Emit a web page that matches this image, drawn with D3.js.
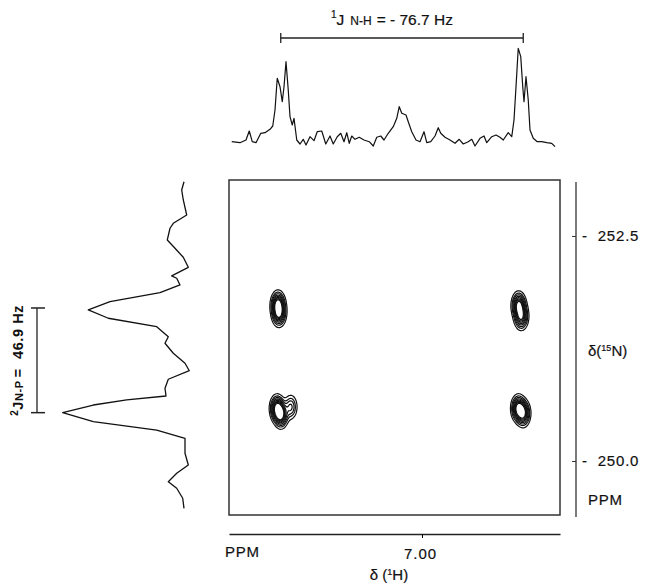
<!DOCTYPE html>
<html>
<head>
<meta charset="utf-8">
<script src="https://cdn.jsdelivr.net/npm/d3@7"></script>
<style>
  body { margin: 0; background: #fff; }
  text { font-family: "Liberation Sans", Arial, sans-serif; fill: #111; stroke: #111; stroke-width: 0.2px; }
</style>
</head>
<body>
<div id="chart-area"></div>
<script>
// 1H projection (top): chemical shift in ppm, intensity (arb. units)
const topShift = [7.1522, 7.1456, 7.1408, 7.1382, 7.1358, 7.1328, 7.1290, 7.1256, 7.1216, 7.1194,
  7.1176, 7.1158, 7.1136, 7.1118, 7.1104, 7.1088, 7.1070, 7.1056, 7.1038, 7.1024,
  7.1002, 7.0976, 7.0950, 7.0928, 7.0896, 7.0864, 7.0838, 7.0802, 7.0770, 7.0736,
  7.0710, 7.0678, 7.0650, 7.0624, 7.0602, 7.0582, 7.0562, 7.0536, 7.0502, 7.0464,
  7.0422, 7.0390, 7.0362, 7.0330, 7.0304, 7.0270, 7.0230, 7.0202, 7.0182, 7.0162,
  7.0128, 7.0110, 7.0082, 7.0048, 7.0016, 6.9984, 6.9962, 6.9930, 6.9896, 6.9870,
  6.9850, 6.9816, 6.9776, 6.9736, 6.9702, 6.9670, 6.9630, 6.9602, 6.9576, 6.9536,
  6.9504, 6.9482, 6.9442, 6.9408, 6.9376, 6.9350, 6.9310, 6.9282, 6.9264, 6.9248,
  6.9230, 6.9210, 6.9194, 6.9184, 6.9168, 6.9150, 6.9136, 6.9110, 6.9078, 6.9042,
  6.9002, 6.8962, 6.8936];
const topIntensity = [0.3, -0.7, 2, 11, 0.3, -0.7, 8.7, 9.3, 12.7, 16,
  32, 63.7, 55.3, 40.3, 55.3, 80.3, 52, 25.3, 17, 23.7,
  2, -2, 2.7, -3, 5.3, 1.3, 10.3, 11, -2, 6,
  -2, 5.3, 8.7, 0.3, 9.3, -1.3, 6, 2.7, 4.7, 2,
  0.3, -4, 4.7, 6, 2, 8.7, 15.3, 23.7, 35.3, 28.7,
  27, 20.3, 10.3, 2, 0.3, 10.3, -0.7, 0.3, 6, 14.3,
  8.7, 4.7, 2, -1.3, 2.7, -2, 0.3, 2.7, -4, 3.7,
  6, -0.7, 5.3, 7, 4.7, 2, 9.3, 5.3, 22, 55.3,
  93.7, 85.3, 55.3, 40.3, 65.3, 42, 12, 3.7, 0.3, 0.3,
  -0.7, -1.3, -4.7];

// 15N projection (left): chemical shift in ppm, intensity (arb. units)
const leftShift = [253.103, 253.011, 252.900, 252.733, 252.641, 252.586, 252.456, 252.363, 252.263, 252.152,
  252.056, 252.030, 251.956, 251.870, 251.770, 251.678, 251.586, 251.492, 251.381, 251.308,
  251.197, 251.086, 251.003, 250.908, 250.808, 250.722, 250.678, 250.622, 250.537, 250.437,
  250.344, 250.252, 250.086, 249.956, 249.863, 249.770, 249.697, 249.586, 249.474];
const leftIntensity = [0, 2.3, 0.7, -2.7, 10.7, 14, 16.7, 9, 0.7, -4.3,
  12.3, 7.3, 4, 24, 74, 95.7, 75.7, 27.3, 15.7, 19,
  10.7, -1, -5.3, 15.7, 19, 18, 57.3, 90.7, 121.3, 90.7,
  27.3, -1, -1, -4.3, 7.3, 15.7, 7.3, 1.3, 0];

// cross peak components: 1H ppm, 15N ppm, relative height
const peakH = [7.1152, 7.1144, 7.1160, 7.1128, 7.1050, 6.9226, 6.9206, 6.9230, 6.9190];
const peakN = [251.740, 251.640, 250.585, 250.515, 250.600, 251.730, 251.605, 250.585, 250.530];
const peakHeight = [1, 0.9, 1, 1, 0.45, 1, 0.9, 1, 0.95];
const peakWidthH = 0.0029, peakWidthN = 0.075;
const contourLevels = [0.1, 0.2, 0.3, 0.42, 0.54, 0.66, 0.78, 0.9];

// couplings (marker ends) and ticks
const jNH = [7.1130, 6.9190];
const jNP = [251.700, 250.537];
const hTicks = [7.00];
const nTicks = [252.5, 250.0];

const W = 645, H = 587;
const svg = d3.select("#chart-area").append("svg")
  .attr("width", W).attr("height", H);

const x = d3.scaleLinear().domain([7.1544, 6.8896]).range([229, 560]);
const y = d3.scaleLinear().domain([253.122, 249.4]).range([180, 515]);
const topY = d3.scaleLinear().domain([0, 100]).range([142, 42]);
const leftX = d3.scaleLinear().domain([0, 100]).range([184, 84]);

// top 1H trace
svg.append("path")
  .datum(d3.zip(topShift, topIntensity))
  .attr("d", d3.line().x(d => x(d[0])).y(d => topY(d[1])))
  .attr("fill", "none").attr("stroke", "#111").attr("stroke-width", 1.2)
  .attr("stroke-linejoin", "round");

// left 15N trace
svg.append("path")
  .datum(d3.zip(leftShift, leftIntensity))
  .attr("d", d3.line().x(d => leftX(d[1])).y(d => y(d[0])))
  .attr("fill", "none").attr("stroke", "#111").attr("stroke-width", 1.3)
  .attr("stroke-linejoin", "round");

// 2D frame
svg.append("rect")
  .attr("x", x.range()[0]).attr("y", y.range()[0])
  .attr("width", x.range()[1] - x.range()[0]).attr("height", y.range()[1] - y.range()[0])
  .attr("fill", "none").attr("stroke", "#333").attr("stroke-width", 1.5);

// contour map
const nx = Math.round(x.range()[1] - x.range()[0]);
const ny = Math.round(y.range()[1] - y.range()[0]);
const grid = new Float64Array(nx * ny);
for (let j = 0; j < ny; j++) {
  const N = y.invert(y.range()[0] + j + 0.5);
  for (let i = 0; i < nx; i++) {
    const Hs = x.invert(x.range()[0] + i + 0.5);
    let v = 0;
    for (let k = 0; k < peakH.length; k++) {
      const dh = (Hs - peakH[k]) / peakWidthH, dn = (N - peakN[k]) / peakWidthN;
      v += peakHeight[k] * Math.exp(-0.5 * (dh * dh + dn * dn));
    }
    grid[j * nx + i] = v;
  }
}
const contours = d3.contours().size([nx, ny]).thresholds(contourLevels)(grid);
svg.append("g")
  .attr("transform", `translate(${x.range()[0]},${y.range()[0]})`)
  .selectAll("path").data(contours).join("path")
  .attr("d", d3.geoPath())
  .attr("fill", "none").attr("stroke", "#111").attr("stroke-width", 1.2);

// right 15N axis
svg.append("line")
  .attr("x1", 576).attr("x2", 576).attr("y1", 182).attr("y2", 517)
  .attr("stroke", "#333").attr("stroke-width", 1.3);
const yAxis = d3.axisRight(y).tickValues(nTicks).tickSize(-4).tickPadding(6)
  .tickFormat(d => "-  " + d.toFixed(1));
const gy = svg.append("g").attr("transform", "translate(576,0)").call(yAxis);
gy.select(".domain").remove();
gy.selectAll("text").attr("font-size", 15).attr("font-family", "Liberation Sans, Arial, sans-serif")
  .attr("fill", "#111").attr("letter-spacing", 0.8).style("white-space", "pre");
gy.selectAll("line").attr("stroke", "#333");

const nLabel = svg.append("text").attr("x", 588).attr("y", 356).attr("font-size", 15);
nLabel.append("tspan").text("δ(");
nLabel.append("tspan").attr("font-size", 9).attr("dy", -5).text("15");
nLabel.append("tspan").attr("dy", 5).text("N)");
svg.append("text").attr("x", 588).attr("y", 505).attr("font-size", 15).attr("letter-spacing", 0.8).text("PPM");

// bottom 1H axis
const xAxis = d3.axisBottom(x).tickValues(hTicks).tickSize(4).tickSizeOuter(0).tickPadding(10)
  .tickFormat(d3.format(".2f"));
const gx = svg.append("g").attr("transform", "translate(0,534)").call(xAxis);
gx.select(".domain").attr("stroke", "#222").attr("stroke-width", 1.5);
gx.selectAll("text").attr("font-size", 15).attr("font-family", "Liberation Sans, Arial, sans-serif")
  .attr("fill", "#111").attr("letter-spacing", 1).attr("dx", -2);
svg.append("text").attr("x", 225).attr("y", 557).attr("font-size", 15).attr("letter-spacing", 0.8).text("PPM");
const hLabel = svg.append("text").attr("x", 389).attr("y", 580).attr("font-size", 15)
  .attr("text-anchor", "middle");
hLabel.append("tspan").text("δ (");
hLabel.append("tspan").attr("font-size", 9).attr("dy", -5).text("1");
hLabel.append("tspan").attr("dy", 5).text("H)");

// 1J N-H coupling marker
const topBarY = 38;
svg.append("line").attr("x1", x(jNH[0])).attr("x2", x(jNH[1]))
  .attr("y1", topBarY).attr("y2", topBarY).attr("stroke", "#222").attr("stroke-width", 1.3);
svg.selectAll(".jnh").data(jNH).join("line")
  .attr("x1", d => x(d)).attr("x2", d => x(d)).attr("y1", topBarY - 5).attr("y2", topBarY + 5)
  .attr("stroke", "#222").attr("stroke-width", 1.3);
const jTitle = svg.append("text").attr("x", 331).attr("y", 25).attr("font-size", 15.5);
jTitle.append("tspan").attr("font-size", 10).attr("dy", -7).text("1");
jTitle.append("tspan").attr("dy", 7).text("J");
jTitle.append("tspan").attr("font-size", 12).attr("dx", 6).text("N-H");
jTitle.append("tspan").attr("dx", 5).text("= - 76.7 Hz");

// 2J N-P coupling marker
const leftBarX = 37;
svg.append("line").attr("x1", leftBarX).attr("x2", leftBarX)
  .attr("y1", y(jNP[0])).attr("y2", y(jNP[1])).attr("stroke", "#222").attr("stroke-width", 1.3);
svg.selectAll(".jnp").data(jNP).join("line")
  .attr("x1", leftBarX - 6).attr("x2", leftBarX + 8).attr("y1", d => y(d)).attr("y2", d => y(d))
  .attr("stroke", "#222").attr("stroke-width", 1.5);
const jLeft = svg.append("text")
  .attr("transform", `translate(23,${(y(jNP[0]) + y(jNP[1])) / 2}) rotate(-90)`)
  .attr("text-anchor", "middle").attr("font-size", 14.5).attr("font-weight", "bold")
  .attr("letter-spacing", 0.6).style("stroke-width", "0");
jLeft.append("tspan").attr("font-size", 10).attr("dy", -5).text("2");
jLeft.append("tspan").attr("dy", 5).text("J");
jLeft.append("tspan").attr("font-size", 11).text("N-P");
jLeft.append("tspan").attr("dx", 3).text("=  46.9 Hz").style("white-space", "pre");
</script>
</body>
</html>
